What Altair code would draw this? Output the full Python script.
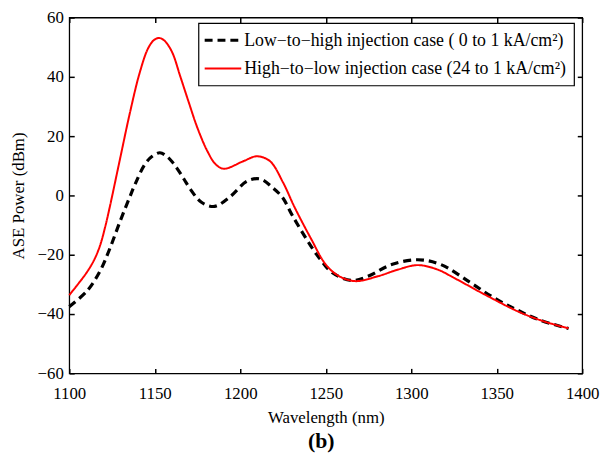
import altair as alt
import pandas as pd

# Low-to-high (black dashed)
low_nm = [1100, 1110.4, 1118, 1123.8, 1129.6, 1135.4, 1138.5, 1144.2, 1148.5, 1153,
          1157, 1160.4, 1164, 1167.3, 1170.6, 1177.3, 1185, 1193.7, 1204.3, 1212,
          1218.8, 1224.6, 1230.4, 1238.5, 1246.2, 1253.9, 1265.4, 1275, 1288.5, 1303.8,
          1317.3, 1334.6, 1348, 1361.5, 1375, 1392]
low_val = [-37.5, -32.2, -25.5, -17.8, -8.9, -0.5, 3.8, 10.5, 13.2, 14.4,
           13.2, 11.2, 8.3, 5.3, 2.3, -2.3, -3.7, -0.6, 4.9, 5.5,
           2.7, -0.6, -6.7, -14.5, -21.1, -26.1, -28.7, -27.2, -23.3, -21.7,
           -23.3, -29.4, -34.4, -38.5, -42.0, -44.9]

# High-to-low (red solid)
high_nm = [1100, 1105, 1110.4, 1114.5, 1118, 1121, 1123.8, 1129.6, 1135.4, 1141, 1146,
           1149.5, 1152.5, 1155.5, 1160, 1165, 1170, 1175, 1180.8, 1185.6, 1190.4,
           1202, 1209.6, 1217.3, 1225, 1231.7, 1241.3, 1250, 1257.7, 1267.3, 1280.8,
           1292.3, 1303.8, 1315.4, 1325, 1344.2, 1363.5, 1378.8, 1392]
high_val = [-33.6, -30.0, -25.8, -21.8, -16.9, -10.6, -3.6, 12.1, 27.7, 41.0, 49.5,
            52.4, 53.1, 52.3, 48.5, 40.0, 31.2, 22.7, 14.9, 10.5, 9.0,
            11.6, 13.2, 11.6, 4.4, -3.9, -14.5, -23.3, -27.2, -28.9, -27.2,
            -25.0, -23.5, -25.0, -27.8, -33.8, -39.4, -42.7, -44.8]

series_names = ["Low\u2212to\u2212high injection case ( 0  to 1 kA/cm\u00b2)",
                "High\u2212to\u2212low injection case (24 to 1 kA/cm\u00b2)"]
series_colors = ["#000000", "#ff0000"]
series_dash = [[8, 5], [1, 0]]
series_width = [3.2, 2]

x_ticks = [1100, 1150, 1200, 1250, 1300, 1350, 1400]
y_ticks = [-60, -40, -20, 0, 20, 40, 60]

W, H = 519, 360
FONT = "Liberation Serif"
TICK = 5
TICK_W = 1.5

xscale = alt.Scale(domain=[1100, 1400], nice=False, zero=False)
yscale = alt.Scale(domain=[-60, 60], nice=False, zero=False)

series_data = [(low_nm, low_val), (high_nm, high_val)]

# axes: pulled inward by the tick length so the ticks point into the plot
ax_bottom = alt.Axis(values=x_ticks, title="Wavelength (nm)", orient="bottom",
                     tickSize=TICK, offset=-TICK, tickColor="black", tickWidth=TICK_W,
                     tickOpacity=1, labelPadding=12, titlePadding=9, domain=False,
                     grid=False, labelFlush=False, format="d")
ax_left = alt.Axis(values=y_ticks, title="ASE Power (dBm)", orient="left",
                   tickSize=TICK, offset=-TICK, tickColor="black", tickWidth=TICK_W,
                   tickOpacity=1, labelPadding=6, titlePadding=10, domain=False,
                   grid=False, labelFlush=False)
ax_top = alt.Axis(values=x_ticks, title=None, orient="top", labels=False,
                  tickSize=TICK, offset=-TICK, tickColor="black", tickWidth=TICK_W,
                  tickOpacity=1, domain=False, grid=False)
ax_right = alt.Axis(values=y_ticks, title=None, orient="right", labels=False,
                    tickSize=TICK, offset=-TICK, tickColor="black", tickWidth=TICK_W,
                    tickOpacity=1, domain=False, grid=False)

curve_layers = []
for i, (nm, val) in enumerate(series_data):
    d = pd.DataFrame({"nm": nm, "val": val})
    curve_layers.append(alt.Chart(d).mark_line(
        interpolate="catmull-rom", color=series_colors[i],
        strokeWidth=series_width[i], strokeDash=series_dash[i]
    ).encode(
        x=alt.X("nm:Q", scale=xscale, axis=ax_bottom),
        y=alt.Y("val:Q", scale=yscale, axis=ax_left),
    ))
curves = alt.layer(*curve_layers)

# mirrored tick axes (top / right) carried by an invisible layer
frame_df = pd.DataFrame({"nm": [1100, 1400], "val": [-60, 60]})
mirror = alt.Chart(frame_df).mark_point(opacity=0).encode(
    x=alt.X("nm:Q", scale=xscale, axis=ax_top),
    y=alt.Y("val:Q", scale=yscale, axis=ax_right),
)

# legend (drawn manually)
legend_df = pd.DataFrame({"name": series_names})
extra = [alt.Chart(legend_df).mark_rect(
    fill="white", stroke="black", strokeWidth=1.2
).encode(x=alt.value(131), x2=alt.value(511), y=alt.value(6), y2=alt.value(69)
).transform_filter(alt.datum.name == series_names[0])]
row_y = [23, 51.5]
for i, name in enumerate(series_names):
    sel = alt.Chart(legend_df).transform_filter(alt.datum.name == name)
    extra.append(sel.mark_rule(
        color=series_colors[i], strokeWidth=series_width[i], strokeDash=series_dash[i]
    ).encode(x=alt.value(137), x2=alt.value(174), y=alt.value(row_y[i])))
    extra.append(sel.mark_text(
        font=FONT, fontSize=18, align="left", baseline="middle", color="black"
    ).encode(text="name:N", x=alt.value(177), y=alt.value(row_y[i] + 1)))

# panel label
extra.append(alt.Chart(pd.DataFrame({"s": ["(b)"]})).mark_text(
    font=FONT, fontSize=22, fontWeight="bold", baseline="middle", align="center",
    color="black"
).encode(text="s:N", x=alt.value(255), y=alt.value(429)))

chart = alt.layer(curves, mirror, *extra).resolve_axis(
    x="independent", y="independent"
).properties(
    width=W, height=H,
    autosize=alt.AutoSizeParams(type="none"),
    padding={"left": 62, "top": 7, "right": 19, "bottom": 82},
).configure(
    font=FONT
).configure_view(
    stroke="black", strokeWidth=1.3
).configure_axis(
    labelFont=FONT, titleFont=FONT, labelFontSize=17, titleFontSize=17,
    titleFontWeight="normal", labelColor="black", titleColor="black"
)

chart.save("out.html", embed_options={"renderer": "svg", "actions": False})
